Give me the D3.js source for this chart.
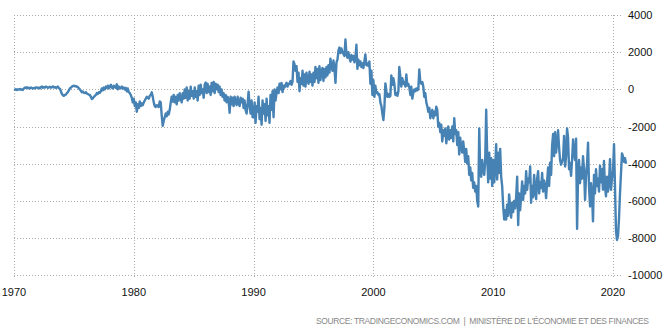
<!DOCTYPE html>
<html>
<head>
<meta charset="utf-8">
<script src="https://cdn.jsdelivr.net/npm/d3@7"></script>
<style>
  body { margin: 0; background: #fff; }
  svg { display: block; font-family: "Liberation Sans", Arial, sans-serif; }
</style>
</head>
<body>
<div id="chart"></div>
<script>
// trade balance, EUR million, monthly values, one array per decade
const tb1970s = [
  0, -20, 10, -30, 0, -10, 20, -20, 0, -30, 50, 100,
  80, 120, 60, 90, 50, 100, 70, 40, 80, 60, 110, 90,
  70, 100, 50, 120, 160, 90, 130, 100, 150, 120, 80, 110,
  140, 90, 120, 160, 100, 130, 80, 110, 150, 60, 30, -100,
  -250, -320, -350, -300, -280, -200, -150, -50, 50, 100, 150, 180,
  200, 160, 180, 150, 120, 60, 0, -80, -150, -120, -180, -200,
  -150, -220, -250, -280, -300, -400, -520, -480, -400, -350, -300, -200,
  -250, -150, -180, -100, 50, -50, 100, 0, 150, 80, 200, 50,
  150, 250, 100, 50, 200, 120, 80, 270, 0, 150, 100, 50,
  150, 50, 100, 0, 80, -100, 50, -150, -200, -300, -450, -700
];
const tb1980s = [
  -500, -900, -700, -1200, -800, -1000, -650, -900, -750, -850, -700, -600,
  -500, -400, -450, -500, -350, -300, -160, -400, -700, -900, -950, -850,
  -900, -950, -650, -700, -1400, -1960, -1700, -1500, -1300, -1450, -1200, -1350,
  -1100, -700, -400, -650, -300, -700, -400, -800, -300, -600, -200, -500,
  -700, -200, -500, 0, -450, 100, -600, -100, -500, 150, -350, -100,
  -500, 100, -400, -100, -600, 200, -300, 250, -200, 0, -450, 250,
  370, -200, 300, -150, 150, -300, 350, -100, 400, -200, 300, 0,
  250, -150, 150, -300, 0, -400, -200, -600, -300, -700, -400, -600,
  -1260, -400, -800, -450, -900, -400, -700, -850, -400, -750, -900, -450,
  -700, -500, -1000, -600, -1100, -1300, -800, -120, -900, -1300, -600, -1500
];
const tb1990s = [
  -1500, -700, -1800, -900, -1200, -400, -1600, -1000, -1900, -600, -1300, -800,
  -1700, -500, -1400, -900, -1800, -300, -1100, -100, -1500, 0, -600, -200,
  100, -200, 300, 0, 350, -150, 200, 100, 250, 350, 150, 300,
  300, 450, 250, 400, 1500, 1350, 1000, 1250, 400, 900, -100, 600,
  300, 1000, 200, 800, 150, 900, 500, 300, 950, 400, 800, 200,
  900, 400, 1200, 600, 1100, 350, 1250, 500, 1000, 1150, 450, 1100,
  650, 1200, 750, 1300, 900, 1650, 1200, 1000, 1550, 1100, 350, 1450,
  1600, 2100, 2250, 1950, 2200, 2000, 1900, 1800, 2680, 1900, 1700, 2000,
  1700, 1500, 1850, 1600, 1800, 1450, 1700, 2400, 1100, 1600, 1300, 1500,
  1200, 1400, 1150, 1500, 1880, 1300, 1400, 1250, 1500, 300, 1000, -300
];
const tb2000s = [
  500, -400, 200, -200, -150, -300, -250, -700, -900, -1300, -1650, -1000,
  320, -100, -400, -250, -400, -350, 750, 250, 600, 300, -300, -200,
  -350, -100, 1200, 700, 150, 600, 300, 400, 150, 800, 200, 300,
  100, -300, 150, -500, -200, 0, -100, 50, -50, 0, 1070, 400,
  300, 400, 150, -400, -200, -700, -900, -1200, -1000, -1550, -1300, -1100,
  -1550, -1200, -1400, -930, -1100, -2000, -1800, -2300, -1900, -2800, -2200, -2500,
  -2100, -2900, -2400, -2000, -2700, -2200, -2600, -2000, -2800, -1550, -2400, -2200,
  -3000, -2300, -3500, -2600, -3100, -3400, -2800, -3300, -3900, -3200, -4000, -3600,
  -4600, -4200, -4900, -4500, -5300, -5000, -5500, -5200, -6000, -6300, -2100, -4500,
  -4700, -3800, -4300, -4600, -3900, -1100, -3500, -5000, -3400, -4800, -3700, -5200
];
const tb2010s = [
  -3800, -5000, -4200, -2950, -4850, -3400, -4500, -3200, -4700, -5200, -6300, -7000,
  -6500, -7000, -6200, -6800, -5650, -6300, -6900, -6100, -6600, -6000, -6400, -5800,
  -4700, -7300, -5600, -6500, -5800, -4950, -5950, -5200, -5600, -4400, -5400, -4800,
  -5000, -4150, -6100, -5200, -5800, -4600, -5400, -5900, -4800, -4400, -5600, -5000,
  -5300, -4500, -5500, -4900, -5200, -5850, -5000, -4200, -5200, -3950, -4600, -3050,
  -2400, -3600, -2300, -3400, -2900, -2200, -3100, -3800, -4050, -3900, -3700, -2500,
  -4150, -3600, -2100, -2600, -4300, -3950, -4650, -3800, -2700, -3500, -3800, -2650,
  -7500, -4500, -3800, -5050, -4200, -4800, -3600, -4300, -5950, -4700, -4000, -2870,
  -5300, -6300, -5050, -5600, -7100, -4600, -5600, -4300, -5200, -4800, -5500, -4100,
  -5000, -4300, -5400, -3850, -5200, -5750, -4700, -5500, -5000, -3750, -5400, -4800
];
const tb2020s = [
  -4400, -2950, -5200, -7600, -8100, -7900, -7000, -5600, -4500, -3440, -3600, -3900,
  -3700, -4000
];

const yearTicks = [1970, 1980, 1990, 2000, 2010, 2020];
const valueTicks = [4000, 2000, 0, -2000, -4000, -6000, -8000, -10000];
const sourceText = "SOURCE: TRADINGECONOMICS.COM  |  MINISTÈRE DE L'ÉCONOMIE ET DES FINANCES";

const W = 667, H = 331;

const monthly = [].concat(tb1970s, tb1980s, tb1990s, tb2000s, tb2010s, tb2020s);
const data = monthly.map((v, i) => ({ date: new Date(1970, i, 1), value: v }));

const x = d3.scaleTime()
  .domain([new Date(1970, 0, 1), new Date(2020, 0, 1)])
  .range([14, 613]);

const y = d3.scaleLinear()
  .domain([-10000, 4000])
  .range([275.3, 15]);

const svg = d3.select("#chart").append("svg")
  .attr("width", W)
  .attr("height", H);

// horizontal grid
svg.append("g").selectAll("line")
  .data(valueTicks)
  .enter().append("line")
  .attr("x1", 14)
  .attr("x2", 623)
  .attr("y1", d => Math.round(y(d)) + 0.5)
  .attr("y2", d => Math.round(y(d)) + 0.5)
  .attr("stroke", "#aaa")
  .attr("stroke-dasharray", "1,2");

// vertical grid
svg.append("g").selectAll("line")
  .data(yearTicks)
  .enter().append("line")
  .attr("x1", d => Math.round(x(new Date(d, 0, 1))) + 0.5)
  .attr("x2", d => Math.round(x(new Date(d, 0, 1))) + 0.5)
  .attr("y1", 15)
  .attr("y2", 279)
  .attr("stroke", "#aaa")
  .attr("stroke-dasharray", "1,2");

// series
const line = d3.line()
  .x(d => x(d.date))
  .y(d => y(d.value));

svg.append("path")
  .datum(data)
  .attr("d", line)
  .attr("fill", "none")
  .attr("stroke", "#4682b4")
  .attr("stroke-width", 2.4)
  .attr("stroke-linejoin", "round");

// y labels (right)
svg.append("g").selectAll("text")
  .data(valueTicks)
  .enter().append("text")
  .attr("x", 628)
  .attr("y", d => y(d))
  .attr("dy", "0.36em")
  .attr("font-size", 11)
  .attr("fill", "#111")
  .text(d => d);

// x labels
svg.append("g").selectAll("text")
  .data(yearTicks)
  .enter().append("text")
  .attr("x", d => x(new Date(d, 0, 1)))
  .attr("y", 295.5)
  .attr("text-anchor", "middle")
  .attr("font-size", 11)
  .attr("fill", "#111")
  .text(d => d);

// source
svg.append("text")
  .attr("x", 316)
  .attr("y", 323.5)
  .attr("font-size", 8.5)
  .attr("fill", "#888")
  .attr("textLength", 333)
  .attr("lengthAdjust", "spacing")
  .attr("xml:space", "preserve")
  .style("white-space", "pre")
  .text(sourceText);
</script>
</body>
</html>
